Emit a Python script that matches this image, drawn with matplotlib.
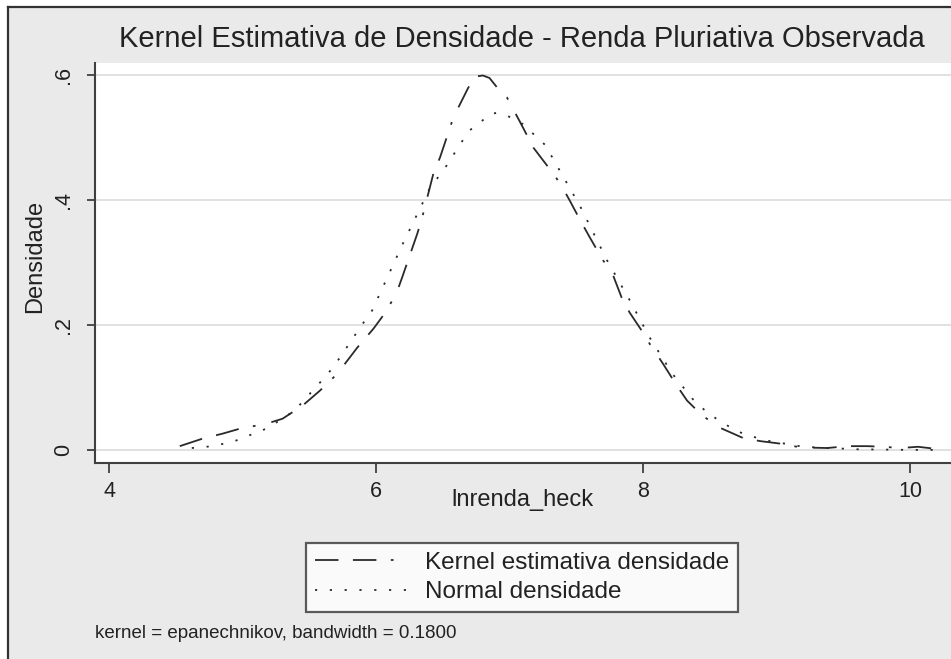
import matplotlib
matplotlib.use("Agg")
import matplotlib.pyplot as plt
from matplotlib.lines import Line2D
from matplotlib.patches import Rectangle

plt.rcParams['font.family'] = ['Liberation Sans', 'DejaVu Sans']

# ---------------- data ----------------
kernel_x = [4.53, 4.70, 4.85, 4.98, 5.18, 5.30, 5.45, 5.58, 5.71, 5.86, 5.98, 6.08,
            6.16, 6.20, 6.25, 6.31, 6.35, 6.43, 6.48, 6.53, 6.58, 6.69, 6.74, 6.80,
            6.85, 6.91, 6.98, 7.08, 7.18, 7.28, 7.38, 7.45, 7.53, 7.60, 7.70, 7.77,
            7.84, 7.90, 8.00, 8.05, 8.15, 8.25, 8.33, 8.43, 8.55, 8.75, 8.88, 9.03,
            9.18, 9.38, 9.53, 9.68, 9.80, 9.93, 10.06, 10.18]
kernel_y = [0.006, 0.018, 0.026, 0.034, 0.042, 0.050, 0.071, 0.095, 0.122, 0.164, 0.194, 0.223,
            0.255, 0.279, 0.310, 0.347, 0.376, 0.443, 0.469, 0.501, 0.533, 0.580, 0.598, 0.600,
            0.596, 0.580, 0.565, 0.525, 0.484, 0.456, 0.427, 0.400, 0.368, 0.341, 0.304, 0.283,
            0.244, 0.220, 0.188, 0.170, 0.138, 0.104, 0.079, 0.058, 0.038, 0.019, 0.014, 0.010,
            0.004, 0.003, 0.006, 0.006, 0.005, 0.003, 0.005, 0.002]

normal_x = [4.62, 4.78, 4.94, 5.19, 5.39, 5.64, 5.73, 5.88, 5.97, 6.20, 6.40, 6.53,
            6.64, 6.70, 6.78, 6.84, 6.90, 6.97, 7.10, 7.27, 7.33, 7.45, 7.53, 7.73,
            7.90, 8.05, 8.22, 8.37, 8.49, 8.70, 8.90, 9.20, 9.60, 10.00, 10.20]
normal_y = [0.003, 0.006, 0.014, 0.035, 0.063, 0.122, 0.148, 0.196, 0.223, 0.330, 0.418, 0.456,
            0.493, 0.512, 0.524, 0.537, 0.540, 0.537, 0.522, 0.488, 0.465, 0.420, 0.390, 0.304,
            0.240, 0.180, 0.122, 0.082, 0.058, 0.030, 0.016, 0.005, 0.001, 0.000, 0.000]

x_ticks = [4, 6, 8, 10]
y_ticks = [0, 0.2, 0.4, 0.6]
y_tick_labels = ["0", ".2", ".4", ".6"]

title = "Kernel Estimativa de Densidade - Renda Pluriativa Observada"
x_label = "lnrenda_heck"
y_label = "Densidade"
legend_labels = ["Kernel estimativa densidade", "Normal densidade"]
note = "kernel = epanechnikov, bandwidth = 0.1800"

# ---------------- figure ----------------
W, H = 951, 659
fig = plt.figure(figsize=(W / 100, H / 100), dpi=100, facecolor="white")

def fx(px):
    return px / W

def fy(py):
    return 1 - py / H

bg = "#eaeaea"
fig.patches.append(Rectangle((fx(8), 0), 1 - fx(8), fy(7), transform=fig.transFigure,
                             facecolor=bg, edgecolor="none", zorder=-10))
fig.lines.append(Line2D([fx(8), fx(8)], [0, fy(7)], transform=fig.transFigure,
                        color="#333333", lw=1.6))
fig.lines.append(Line2D([fx(8), 1], [fy(7), fy(7)], transform=fig.transFigure,
                        color="#333333", lw=1.6))

ax = fig.add_axes([fx(95), fy(463), fx(951) - fx(95), fy(63) - fy(463)])
ax.set_facecolor("white")
ax.set_xlim(3.895, 10.307)
ax.set_ylim(-0.021, 0.620)

for yt in y_ticks:
    ax.axhline(yt, color="#dedede", lw=1.3, zorder=0)

k_line, = ax.plot(kernel_x, kernel_y, color="#2a2a2a", lw=1.3,
                  dashes=(13, 8, 13, 8, 1.5, 9))
n_line, = ax.plot(normal_x, normal_y, color="#2a2a2a", lw=1.3,
                  dashes=(1.2, 7))

for s in ["top", "right"]:
    ax.spines[s].set_visible(False)
for s in ["left", "bottom"]:
    ax.spines[s].set_color("#404040")
    ax.spines[s].set_linewidth(1.5)

ax.set_xticks(x_ticks)
ax.set_xticklabels([str(t) for t in x_ticks])
ax.set_yticks(y_ticks)
ax.set_yticklabels(y_tick_labels, rotation=90, va="center")
ax.tick_params(axis="both", direction="out", width=1.3, color="#404040",
               labelsize=15.5, labelcolor="#222222")
ax.tick_params(axis="x", length=7, pad=6)
ax.tick_params(axis="y", length=6, pad=9)

fig.text(fx(35), fy(256), y_label, rotation=90, ha="center", va="center",
         fontsize=17, color="#222222")
fig.text(fx(522), fy(500), x_label, ha="center", va="center",
         fontsize=17, color="#222222")
fig.text(fx(522), fy(39), title, ha="center", va="center",
         fontsize=21, color="#222222")
fig.text(fx(95), fy(633), note, ha="left", va="center",
         fontsize=13.5, color="#222222")

leg = fig.legend([k_line, n_line], legend_labels, loc="center",
                 bbox_to_anchor=(fx(522), fy(577.5)), frameon=True, fancybox=False,
                 fontsize=17.5, handlelength=3.9, handletextpad=0.65,
                 borderpad=0.35, labelspacing=0.3, borderaxespad=0)
leg.get_frame().set_edgecolor("#333333")
leg.get_frame().set_linewidth(1.6)
leg.get_frame().set_facecolor("white")
for t in leg.get_texts():
    t.set_color("#222222")

fig.savefig("out.png", dpi=100, facecolor="white")
